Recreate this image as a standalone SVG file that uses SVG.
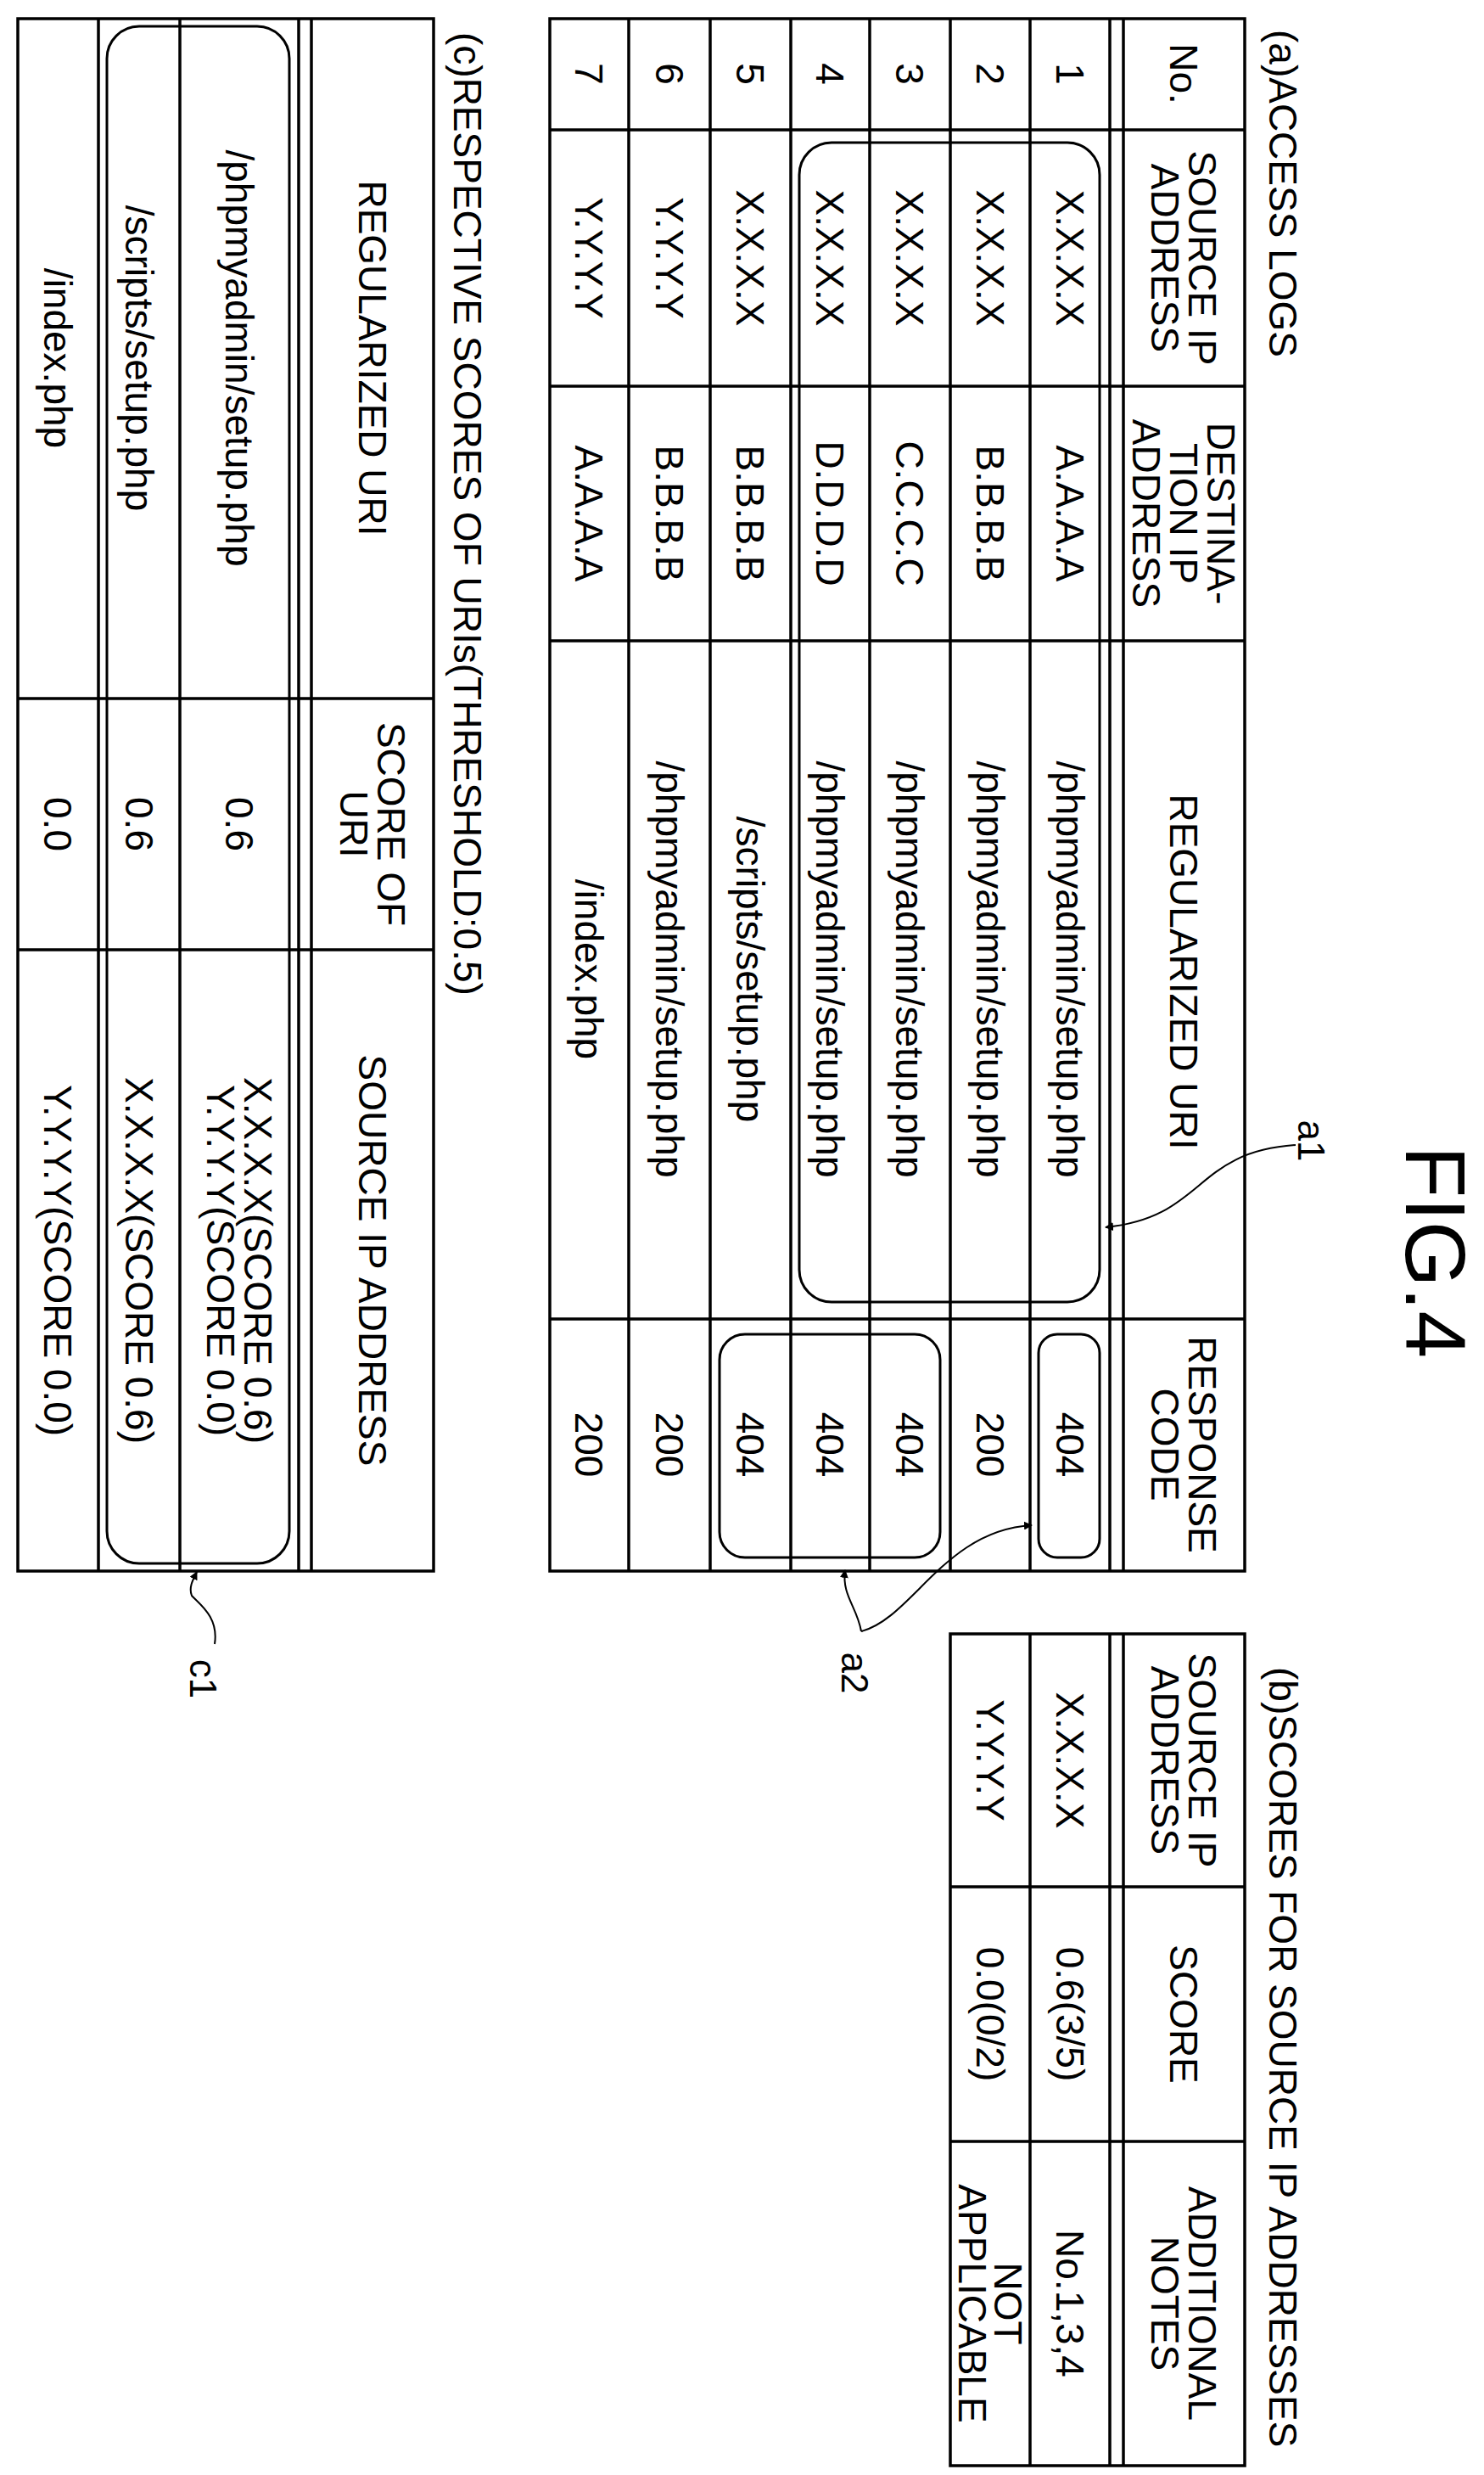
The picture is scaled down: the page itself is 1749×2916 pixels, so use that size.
<svg xmlns="http://www.w3.org/2000/svg" width="1749" height="2916" viewBox="0 0 1749 2916">
<style>
.t{font-family:"Liberation Sans",Arial,sans-serif;font-size:46px;fill:#000;text-anchor:middle;dominant-baseline:central}
.s{text-anchor:start}
.g{fill:none;stroke:#000;stroke-width:3.5}
.r{fill:none;stroke:#000;stroke-width:3}
.c{fill:none;stroke:#000;stroke-width:2}
.l{font-size:44px}
</style>
<defs>
<marker id="ah" viewBox="0 0 10 10" refX="9" refY="5" markerWidth="10" markerHeight="10" markerUnits="userSpaceOnUse" orient="auto">
<path d="M0,0 L10,5 L0,10 z" fill="#000"/>
</marker>
</defs>
<rect width="1749" height="2916" fill="#fff"/>
<g id="fig-title"><text class="t" x="1692" y="1475" transform="rotate(90 1692 1475)" style="font-size:100px">FIG.4</text></g>

<g id="table-a">
<text class="t s" x="1512" y="35" transform="rotate(90 1512 35)">(a)ACCESS LOGS</text>
<rect class="g" x="648" y="22" width="819" height="1829"/>
<path class="g" d="M741,22V1851M837,22V1851M932,22V1851M1025,22V1851M1120,22V1851M1214,22V1851M1308,22V1851M1324,22V1851M648,153H1467M648,455H1467M648,755H1467M648,1554H1467"/>
<rect class="r" x="942" y="168" width="354" height="1366" rx="38"/>
<rect class="r" x="1224" y="1572" width="72" height="263" rx="22"/>
<rect class="r" x="848" y="1572" width="260" height="263" rx="30"/>
<text class="t" x="1395" y="87" transform="rotate(90 1395 87)">No.</text>
<text class="t" x="1417" y="304" transform="rotate(90 1417 304)">SOURCE IP</text>
<text class="t" x="1373" y="304" transform="rotate(90 1373 304)">ADDRESS</text>
<text class="t" x="1439" y="605" transform="rotate(90 1439 605)">DESTINA-</text>
<text class="t" x="1395" y="605" transform="rotate(90 1395 605)">TION IP</text>
<text class="t" x="1351" y="605" transform="rotate(90 1351 605)">ADDRESS</text>
<text class="t" x="1395" y="1145" transform="rotate(90 1395 1145)">REGULARIZED URI</text>
<text class="t" x="1417" y="1702" transform="rotate(90 1417 1702)">RESPONSE</text>
<text class="t" x="1373" y="1702" transform="rotate(90 1373 1702)">CODE</text>

<text class="t" x="1261" y="87" transform="rotate(90 1261 87)">1</text>
<text class="t" x="1167" y="87" transform="rotate(90 1167 87)">2</text>
<text class="t" x="1072" y="87" transform="rotate(90 1072 87)">3</text>
<text class="t" x="978" y="87" transform="rotate(90 978 87)">4</text>
<text class="t" x="884" y="87" transform="rotate(90 884 87)">5</text>
<text class="t" x="789" y="87" transform="rotate(90 789 87)">6</text>
<text class="t" x="694" y="87" transform="rotate(90 694 87)">7</text>

<text class="t" x="1261" y="304" transform="rotate(90 1261 304)">X.X.X.X</text>
<text class="t" x="1167" y="304" transform="rotate(90 1167 304)">X.X.X.X</text>
<text class="t" x="1072" y="304" transform="rotate(90 1072 304)">X.X.X.X</text>
<text class="t" x="978" y="304" transform="rotate(90 978 304)">X.X.X.X</text>
<text class="t" x="884" y="304" transform="rotate(90 884 304)">X.X.X.X</text>
<text class="t" x="789" y="304" transform="rotate(90 789 304)">Y.Y.Y.Y</text>
<text class="t" x="694" y="304" transform="rotate(90 694 304)">Y.Y.Y.Y</text>

<text class="t" x="1261" y="605" transform="rotate(90 1261 605)">A.A.A.A</text>
<text class="t" x="1167" y="605" transform="rotate(90 1167 605)">B.B.B.B</text>
<text class="t" x="1072" y="605" transform="rotate(90 1072 605)">C.C.C.C</text>
<text class="t" x="978" y="605" transform="rotate(90 978 605)">D.D.D.D</text>
<text class="t" x="884" y="605" transform="rotate(90 884 605)">B.B.B.B</text>
<text class="t" x="789" y="605" transform="rotate(90 789 605)">B.B.B.B</text>
<text class="t" x="694" y="605" transform="rotate(90 694 605)">A.A.A.A</text>

<text class="t" x="1261" y="1142" transform="rotate(90 1261 1142)">/phpmyadmin/setup.php</text>
<text class="t" x="1167" y="1142" transform="rotate(90 1167 1142)">/phpmyadmin/setup.php</text>
<text class="t" x="1072" y="1142" transform="rotate(90 1072 1142)">/phpmyadmin/setup.php</text>
<text class="t" x="978" y="1142" transform="rotate(90 978 1142)">/phpmyadmin/setup.php</text>
<text class="t" x="884" y="1142" transform="rotate(90 884 1142)">/scripts/setup.php</text>
<text class="t" x="789" y="1142" transform="rotate(90 789 1142)">/phpmyadmin/setup.php</text>
<text class="t" x="694" y="1142" transform="rotate(90 694 1142)">/index.php</text>

<text class="t" x="1261" y="1702" transform="rotate(90 1261 1702)">404</text>
<text class="t" x="1167" y="1702" transform="rotate(90 1167 1702)">200</text>
<text class="t" x="1072" y="1702" transform="rotate(90 1072 1702)">404</text>
<text class="t" x="978" y="1702" transform="rotate(90 978 1702)">404</text>
<text class="t" x="884" y="1702" transform="rotate(90 884 1702)">404</text>
<text class="t" x="789" y="1702" transform="rotate(90 789 1702)">200</text>
<text class="t" x="694" y="1702" transform="rotate(90 694 1702)">200</text>
</g>

<g id="table-b">
<text class="t s" x="1512" y="1964" transform="rotate(90 1512 1964)">(b)SCORES FOR SOURCE IP ADDRESSES</text>
<rect class="g" x="1120" y="1925" width="347" height="980"/>
<path class="g" d="M1214,1925V2905M1308,1925V2905M1324,1925V2905M1120,2223H1467M1120,2523H1467"/>
<text class="t" x="1417" y="2074" transform="rotate(90 1417 2074)">SOURCE IP</text>
<text class="t" x="1373" y="2074" transform="rotate(90 1373 2074)">ADDRESS</text>
<text class="t" x="1395" y="2373" transform="rotate(90 1395 2373)">SCORE</text>
<text class="t" x="1417" y="2714" transform="rotate(90 1417 2714)">ADDITIONAL</text>
<text class="t" x="1373" y="2714" transform="rotate(90 1373 2714)">NOTES</text>
<text class="t" x="1261" y="2074" transform="rotate(90 1261 2074)">X.X.X.X</text>
<text class="t" x="1261" y="2373" transform="rotate(90 1261 2373)">0.6(3/5)</text>
<text class="t" x="1261" y="2714" transform="rotate(90 1261 2714)">No.1,3,4</text>
<text class="t" x="1167" y="2074" transform="rotate(90 1167 2074)">Y.Y.Y.Y</text>
<text class="t" x="1167" y="2373" transform="rotate(90 1167 2373)">0.0(0/2)</text>
<text class="t" x="1188" y="2714" transform="rotate(90 1188 2714)">NOT</text>
<text class="t" x="1146" y="2714" transform="rotate(90 1146 2714)">APPLICABLE</text>
</g>

<g id="table-c">
<text class="t s" x="551" y="38" transform="rotate(90 551 38)">(c)RESPECTIVE SCORES OF URIs(THRESHOLD:0.5)</text>
<rect class="g" x="21" y="22" width="490" height="1829"/>
<path class="g" d="M116,22V1851M212,22V1851M352,22V1851M367,22V1851M21,823H511M21,1119H511"/>
<rect class="r" x="126" y="31" width="215" height="1811" rx="38"/>
<text class="t" x="439" y="422" transform="rotate(90 439 422)">REGULARIZED URI</text>
<text class="t" x="461" y="971" transform="rotate(90 461 971)">SCORE OF</text>
<text class="t" x="417" y="971" transform="rotate(90 417 971)">URI</text>
<text class="t" x="439" y="1485" transform="rotate(90 439 1485)">SOURCE IP ADDRESS</text>
<text class="t" x="282" y="422" transform="rotate(90 282 422)">/phpmyadmin/setup.php</text>
<text class="t" x="282" y="971" transform="rotate(90 282 971)">0.6</text>
<text class="t" x="304" y="1485" transform="rotate(90 304 1485)">X.X.X.X(SCORE 0.6)</text>
<text class="t" x="260" y="1485" transform="rotate(90 260 1485)">Y.Y.Y.Y(SCORE 0.0)</text>
<text class="t" x="164" y="422" transform="rotate(90 164 422)">/scripts/setup.php</text>
<text class="t" x="164" y="971" transform="rotate(90 164 971)">0.6</text>
<text class="t" x="164" y="1485" transform="rotate(90 164 1485)">X.X.X.X(SCORE 0.6)</text>
<text class="t" x="68" y="422" transform="rotate(90 68 422)">/index.php</text>
<text class="t" x="68" y="971" transform="rotate(90 68 971)">0.0</text>
<text class="t" x="68" y="1485" transform="rotate(90 68 1485)">Y.Y.Y.Y(SCORE 0.0)</text>
</g>

<g id="connectors">
<path class="c" d="M1527,1349 C1406,1357 1421,1434 1303,1446" marker-end="url(#ah)"/>
<path class="c" d="M1015,1922 C1010,1893 992,1880 996,1850" marker-end="url(#ah)"/>
<path class="c" d="M1015,1922 C1076,1906 1113,1803 1216,1797" marker-end="url(#ah)"/>
<path class="c" d="M253,1937 C258,1905 235,1890 226,1880 C222,1870 228,1860 232,1852" marker-end="url(#ah)"/>
</g>
<g id="labels">
<text class="t l" x="1545" y="1344" transform="rotate(90 1545 1344)">a1</text>
<text class="t l" x="1007" y="1971" transform="rotate(90 1007 1971)">a2</text>
<text class="t l" x="239" y="1978" transform="rotate(90 239 1978)">c1</text>
</g>
</svg>
